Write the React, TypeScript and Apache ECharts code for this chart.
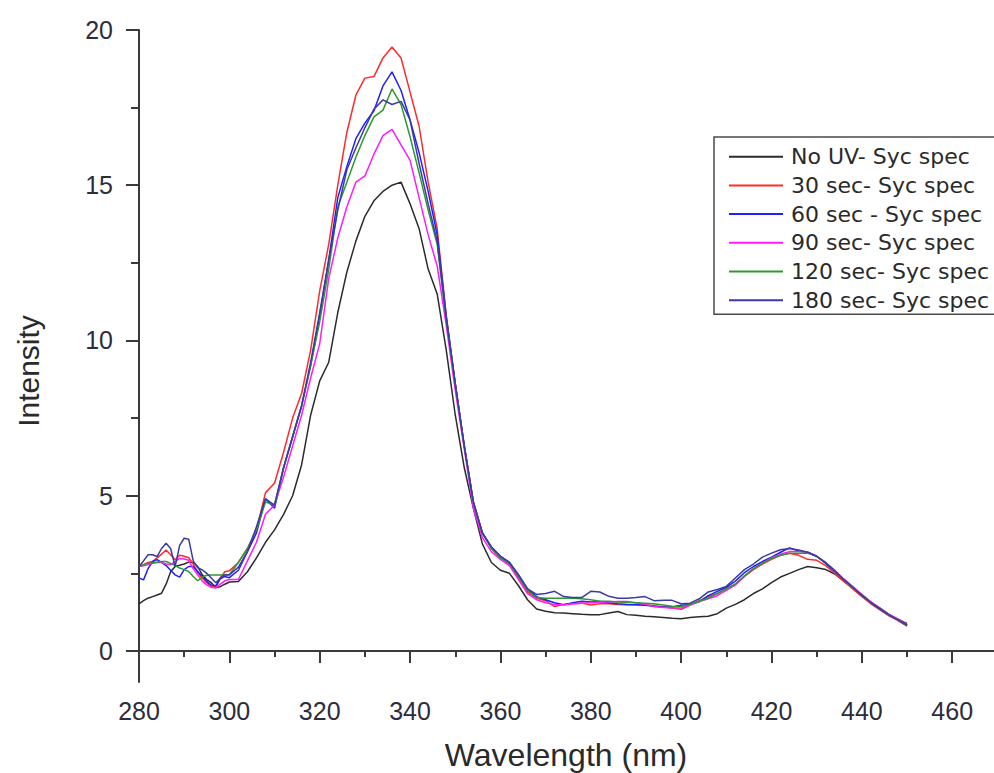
import React, { useEffect, useRef } from "react";
import * as echarts from "echarts";

const wavelengths = [
  280, 281, 282, 283, 284, 285, 286, 287, 288, 289, 290, 291, 292, 293, 294, 295, 296, 297, 298, 299, 300,
  302, 304, 306, 308, 310, 312, 314, 316, 318, 320,
  322, 324, 326, 328, 330, 332, 334, 336, 338, 340,
  342, 344, 346, 348, 350, 352, 354, 356, 358, 360,
  362, 364, 366, 368, 370, 372, 374, 376, 378, 380,
  382, 384, 386, 388, 390, 392, 394, 396, 398, 400,
  402, 404, 406, 408, 410, 412, 414, 416, 418, 420,
  422, 424, 426, 428, 430, 432, 434, 436, 438, 440,
  442, 444, 446, 448, 450,
];

const noUV = [
  1.52, 1.62, 1.7, 1.75, 1.8, 1.86, 2.15, 2.55, 2.72, 2.76, 2.8, 2.86, 2.85, 2.72, 2.45, 2.3, 2.2, 2.04, 2.07, 2.15, 2.22,
  2.24, 2.55, 3.0, 3.5, 3.9, 4.4, 5.0, 6.0, 7.6, 8.7,
  9.3, 10.9, 12.2, 13.2, 14.0, 14.5, 14.8, 15.0, 15.1, 14.4,
  13.6, 12.3, 11.5, 9.7, 7.6, 5.9, 4.6, 3.45, 2.85, 2.6,
  2.5, 2.1, 1.65, 1.35, 1.28, 1.23, 1.22, 1.2, 1.18, 1.17,
  1.17, 1.22, 1.27, 1.17, 1.15, 1.12, 1.1, 1.08, 1.05, 1.04,
  1.08, 1.1, 1.12, 1.2, 1.38, 1.5, 1.65, 1.85, 2.0, 2.2,
  2.38, 2.5, 2.62, 2.72, 2.68, 2.62, 2.48, 2.25, 2.02, 1.78,
  1.57, 1.38, 1.18, 1.02, 0.88,
];

const sec30 = [
  2.72, 2.78, 2.85, 2.88, 3.0, 3.12, 3.25, 3.1, 2.94, 3.08, 3.05, 3.0, 2.8, 2.52, 2.35, 2.2, 2.08, 2.05, 2.35, 2.55, 2.58,
  2.85, 3.3, 3.9, 5.1, 5.4, 6.4, 7.5, 8.3, 9.7, 11.6,
  13.1, 15.0, 16.7, 17.9, 18.45, 18.5, 19.1, 19.45, 19.1, 18.0,
  16.9, 15.1, 13.6, 10.8, 8.6, 6.6, 4.8, 3.8, 3.3, 3.0,
  2.8, 2.35, 1.9, 1.7, 1.62, 1.43, 1.5, 1.52, 1.54, 1.48,
  1.52, 1.52, 1.5, 1.49, 1.49, 1.48, 1.46, 1.42, 1.38, 1.34,
  1.48, 1.62, 1.75, 1.85, 2.0, 2.15, 2.4, 2.62, 2.8, 2.95,
  3.08, 3.15, 3.08, 2.95, 2.92, 2.75, 2.5, 2.25, 2.0, 1.75,
  1.52, 1.32, 1.13, 0.98, 0.8,
];

const sec60 = [
  2.35, 2.29, 2.65, 2.88, 2.94, 2.85, 2.75, 2.6, 2.45, 2.38, 2.62, 2.72, 2.72, 2.56, 2.4, 2.24, 2.12, 2.1, 2.32, 2.4, 2.36,
  2.6, 3.2, 3.8, 4.9, 4.6, 5.9, 6.9, 7.9, 9.2, 10.8,
  12.6, 14.6, 15.6, 16.5, 17.0, 17.4, 18.2, 18.65, 18.05, 17.1,
  16.05, 14.8, 13.4, 10.8, 8.6, 6.6, 4.8, 3.8, 3.35, 3.05,
  2.85, 2.45, 2.0, 1.75, 1.65, 1.55, 1.49, 1.55, 1.6, 1.58,
  1.59, 1.55, 1.52, 1.5, 1.49, 1.47, 1.44, 1.41, 1.42, 1.47,
  1.5, 1.58, 1.78, 1.92, 2.05, 2.25, 2.52, 2.72, 2.88, 3.02,
  3.18, 3.32, 3.22, 3.18, 3.05, 2.82, 2.56, 2.3, 2.05, 1.8,
  1.56, 1.35, 1.16, 1.0, 0.82,
];

const sec90 = [
  2.72, 2.74, 2.78, 2.82, 2.86, 2.85, 2.8, 2.78, 2.88, 2.98, 2.96, 2.92, 2.65, 2.45, 2.25, 2.13, 2.05, 2.03, 2.15, 2.26, 2.3,
  2.3, 2.9, 3.5, 4.4, 4.7, 5.6, 6.6, 7.6, 8.8, 9.9,
  12.0, 13.3, 14.3, 15.1, 15.3, 16.0, 16.6, 16.8, 16.3, 15.8,
  14.6, 13.4, 12.4, 10.5, 8.4, 6.5, 4.6, 3.65, 3.2, 2.95,
  2.75, 2.3, 1.85, 1.65, 1.55, 1.5, 1.49, 1.52, 1.54, 1.55,
  1.58, 1.58, 1.59, 1.59, 1.55, 1.5, 1.43, 1.4, 1.38, 1.38,
  1.48, 1.59, 1.68, 1.78, 1.95, 2.12, 2.4, 2.65, 2.82, 3.0,
  3.12, 3.2, 3.2, 3.18, 3.05, 2.85, 2.6, 2.32, 2.07, 1.82,
  1.58, 1.38, 1.18, 1.03, 0.84,
];

const sec120 = [
  2.72, 2.78, 2.82, 2.83, 2.86, 2.88, 2.88, 2.82, 2.75, 2.67, 2.62, 2.56, 2.4, 2.26, 2.38, 2.44, 2.45, 2.45, 2.45, 2.45, 2.46,
  2.85, 3.3, 3.9, 4.8, 4.7, 5.9, 6.9, 7.9, 9.2, 10.6,
  12.3, 14.3, 15.1, 15.9, 16.6, 17.2, 17.42, 18.1, 17.6, 16.56,
  15.4, 14.2, 13.1, 10.7, 8.6, 6.6, 4.8, 3.8, 3.3, 3.0,
  2.82, 2.4, 1.95, 1.72, 1.7, 1.7, 1.7, 1.7, 1.68, 1.65,
  1.6, 1.6, 1.58, 1.56, 1.55, 1.54, 1.52, 1.48, 1.44, 1.43,
  1.5, 1.6, 1.7, 1.85, 2.0, 2.15, 2.42, 2.65, 2.82, 2.98,
  3.08, 3.15, 3.15, 3.15, 3.05, 2.85, 2.58, 2.3, 2.05, 1.8,
  1.56, 1.36, 1.16, 1.0, 0.82,
];

const sec180 = [
  2.72, 2.9, 3.1, 3.1, 3.04, 3.3, 3.47, 3.3, 2.72, 3.4, 3.63, 3.6, 2.9, 2.68, 2.61, 2.5, 2.35, 2.2, 2.35, 2.45, 2.45,
  2.7, 3.2, 4.0, 4.9, 4.7, 5.9, 6.9, 7.9, 9.3, 10.9,
  12.6, 14.2, 15.5, 16.2, 16.85, 17.45, 17.75, 17.6, 17.7, 17.1,
  15.7, 14.4, 13.2, 10.7, 8.6, 6.6, 4.8, 3.8, 3.35, 3.05,
  2.85, 2.45, 2.0, 1.82, 1.85, 1.92, 1.75, 1.72, 1.72, 1.92,
  1.9, 1.76, 1.7, 1.7, 1.72, 1.75, 1.62, 1.63, 1.63, 1.52,
  1.54, 1.68, 1.9, 1.98, 2.08, 2.35, 2.62, 2.8, 3.02, 3.15,
  3.26, 3.3, 3.25, 3.18, 3.05, 2.83, 2.58, 2.3, 2.05, 1.8,
  1.56, 1.36, 1.16, 1.0, 0.83,
];

const seriesNames = [
  "No UV- Syc spec",
  "30 sec- Syc spec",
  "60 sec - Syc spec",
  "90 sec- Syc spec",
  "120 sec- Syc spec",
  "180 sec- Syc spec",
];
const seriesColors = ["#2b2b2b", "#ff2a2a", "#1f1fff", "#ff1aff", "#2e9a2e", "#3a3aa6"];
const seriesValues = [noUV, sec30, sec60, sec90, sec120, sec180];

const xTicks = [280, 300, 320, 340, 360, 380, 400, 420, 440, 460];
const xMinorTicks = [290, 310, 330, 350, 370, 390, 410, 430, 450];
const yTicks = [0, 5, 10, 15, 20];
const yMinorTicks = [2.5, 7.5, 12.5, 17.5];

const FONT = "'Liberation Sans', Arial, sans-serif";
const LEGEND_FONT = "'DejaVu Sans', 'Liberation Sans', Arial, sans-serif";
const AXIS_COLOR = "#3a3a3a";
const LABEL_COLOR = "#2c2c3c";

export default function App() {
  const ref = useRef<HTMLDivElement>(null);

  useEffect(() => {
    if (!ref.current) return;
    const chart = echarts.init(ref.current, undefined, { renderer: "svg" });

    const series = seriesNames.map((name, i) => ({
      name,
      type: "line",
      xAxisIndex: 0,
      yAxisIndex: 0,
      symbol: "none",
      showSymbol: false,
      color: seriesColors[i],
      lineStyle: { color: seriesColors[i], width: 1.5 },
      data: wavelengths.map((w, j) => [w, seriesValues[i][j]]),
      z: 2 + i,
    }));

    chart.setOption({
      animation: false,
      backgroundColor: "#ffffff",
      grid: { left: 139, right: 12.6, top: 30, bottom: 91, containLabel: false },
      xAxis: [
        {
          type: "value",
          min: 280,
          max: 470,
          position: "bottom",
          axisLine: { show: true, lineStyle: { color: AXIS_COLOR, width: 2 } },
          axisTick: { show: true, length: 12, customValues: xTicks, lineStyle: { color: AXIS_COLOR, width: 2 } },
          axisLabel: {
            show: true,
            customValues: xTicks,
            fontSize: 25,
            fontFamily: FONT,
            color: LABEL_COLOR,
            margin: 16,
          },
          splitLine: { show: false },
        },
        {
          type: "value",
          min: 280,
          max: 470,
          position: "bottom",
          axisLine: { show: false },
          axisTick: { show: true, length: 6, customValues: xMinorTicks, lineStyle: { color: AXIS_COLOR, width: 2 } },
          axisLabel: { show: false },
          splitLine: { show: false },
        },
      ],
      yAxis: [
        {
          type: "value",
          min: -1,
          max: 20,
          position: "left",
          axisLine: { show: true, lineStyle: { color: AXIS_COLOR, width: 2 } },
          axisTick: { show: true, length: 13, customValues: yTicks, lineStyle: { color: AXIS_COLOR, width: 2 } },
          axisLabel: {
            show: true,
            customValues: yTicks,
            fontSize: 25,
            fontFamily: FONT,
            color: LABEL_COLOR,
            margin: 26,
          },
          splitLine: { show: false },
        },
        {
          type: "value",
          min: -1,
          max: 20,
          position: "left",
          axisLine: { show: false },
          axisTick: { show: true, length: 8, customValues: yMinorTicks, lineStyle: { color: AXIS_COLOR, width: 2 } },
          axisLabel: { show: false },
          splitLine: { show: false },
        },
      ],
      legend: {
        orient: "vertical",
        left: 714,
        top: 137,
        data: seriesNames.map((name) => ({ name, icon: "rect" })),
        itemWidth: 54,
        itemHeight: 2,
        itemGap: 6.7,
        padding: [8.7, 40, 3, 15],
        borderColor: "#4a4a4a",
        borderWidth: 1.5,
        borderRadius: 0,
        backgroundColor: "#ffffff",
        selectedMode: false,
        textStyle: {
          fontSize: 22,
          fontFamily: LEGEND_FONT,
          color: "#2a2a2a",
          padding: [0, 0, 0, 3],
        },
      },
      graphic: [
        {
          type: "text",
          x: 28,
          y: 371,
          rotation: Math.PI / 2,
          style: {
            text: "Intensity",
            fontSize: 30,
            fontFamily: FONT,
            fill: "#2a2a2a",
            align: "center",
            verticalAlign: "middle",
          },
        },
        {
          type: "text",
          x: 566,
          y: 755,
          style: {
            text: "Wavelength (nm)",
            fontSize: 32,
            fontFamily: FONT,
            fill: "#2a2a2a",
            align: "center",
            verticalAlign: "middle",
          },
        },
      ],
      series,
    });

    return () => {
      chart.dispose();
    };
  }, []);

  return (
    <div
      style={{
        position: "fixed",
        left: 0,
        top: 0,
        width: 994,
        height: 773,
        overflow: "hidden",
        background: "#ffffff",
      }}
    >
      <div ref={ref} style={{ width: 1010, height: 773 }} />
    </div>
  );
}
